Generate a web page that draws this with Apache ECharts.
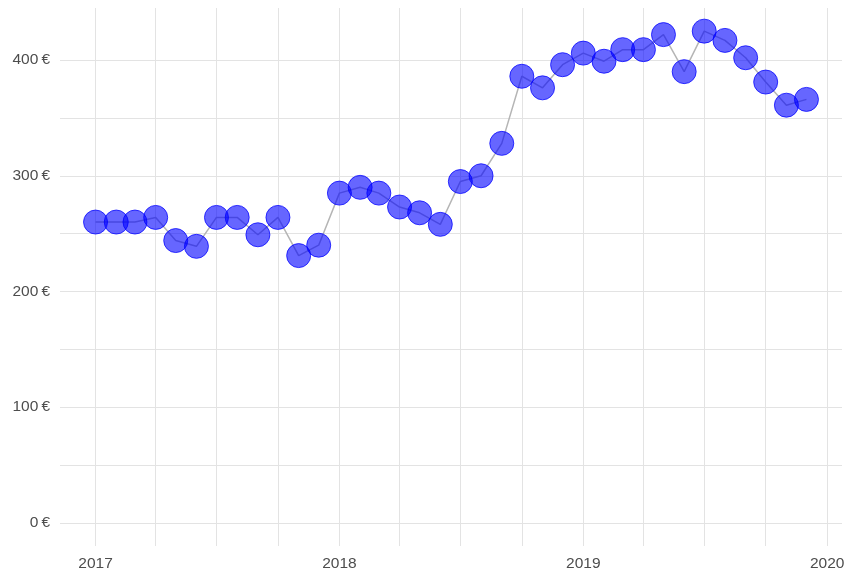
<!DOCTYPE html>
<html>
<head>
<meta charset="utf-8">
<script src="https://cdn.jsdelivr.net/npm/echarts@6/dist/echarts.min.js"></script>
<style>
  html, body { margin: 0; padding: 0; background: #fff; }
  #chart { width: 845px; height: 576px; }
</style>
</head>
<body>
<div id="chart"></div>
<script>
// monthly observations
var months = [
  '2017-01', '2017-02', '2017-03', '2017-04', '2017-05', '2017-06',
  '2017-07', '2017-08', '2017-09', '2017-10', '2017-11', '2017-12',
  '2018-01', '2018-02', '2018-03', '2018-04', '2018-05', '2018-06',
  '2018-07', '2018-08', '2018-09', '2018-10', '2018-11', '2018-12',
  '2019-01', '2019-02', '2019-03', '2019-04', '2019-05', '2019-06',
  '2019-07', '2019-08', '2019-09', '2019-10', '2019-11', '2019-12'
];
var prices = [
  260, 260, 260, 264, 244, 239, 264, 264, 249, 264, 231, 240,
  285, 290, 285, 273, 268, 258, 295, 300, 328, 386, 376, 396,
  406, 399, 409, 409, 422, 390, 425, 417, 402, 381, 361, 366
];
var yearTicks = ['2017-01', '2018-01', '2019-01', '2020-01'];
var quarterTicks = [
  '2017-01', '2017-04', '2017-07', '2017-10',
  '2018-01', '2018-04', '2018-07', '2018-10',
  '2019-01', '2019-04', '2019-07', '2019-10', '2020-01'
];
var yGridTicks = [0, 50, 100, 150, 200, 250, 300, 350, 400];
var yLabelTicks = [0, 100, 200, 300, 400];

// turn 'YYYY-MM' into a decimal year (first day of that month)
function toYear(s) {
  var y = +s.slice(0, 4), m = +s.slice(5, 7);
  var start = Date.UTC(y, 0, 1), end = Date.UTC(y + 1, 0, 1);
  return y + (Date.UTC(y, m - 1, 1) - start) / (end - start);
}

var xs = months.map(toYear);
var span = xs[xs.length - 1] - xs[0];
var xMin = xs[0] - span * 0.05;
var xMax = xs[xs.length - 1] + span * 0.05;

var labelStyle = { color: '#4d4d4d', fontSize: 15.5, fontFamily: 'Liberation Sans, Arial, sans-serif' };
var gridLine = { show: true, lineStyle: { color: '#e3e3e3', width: 1 } };

var chart = echarts.init(document.getElementById('chart'));
chart.setOption({
  animation: false,
  grid: { left: 60, right: 3, top: 8, bottom: 30, outerBoundsMode: 'none', containLabel: false },
  xAxis: {
    type: 'value',
    min: xMin,
    max: xMax,
    axisLine: { show: false },
    axisTick: { show: false, customValues: quarterTicks.map(toYear) },
    splitLine: gridLine,
    axisLabel: Object.assign({
      customValues: yearTicks.map(toYear),
      margin: 10,
      formatter: function (v) { return String(Math.round(v)); }
    }, labelStyle)
  },
  yAxis: {
    type: 'value',
    min: -20,
    max: 445,
    axisLine: { show: false },
    axisTick: { show: false, customValues: yGridTicks },
    splitLine: gridLine,
    axisLabel: Object.assign({
      customValues: yLabelTicks,
      margin: 10,
      formatter: function (v) { return v + '\u2009€'; }
    }, labelStyle)
  },
  series: [{
    type: 'line',
    data: xs.map(function (x, i) { return [x, prices[i]]; }),
    lineStyle: { color: '#b5b5b5', width: 1.5 },
    symbol: 'circle',
    symbolSize: 24,
    showSymbol: true,
    itemStyle: { color: 'rgba(0,0,255,0.6)', borderColor: 'rgba(0,0,255,0.75)', borderWidth: 1 },
    emphasis: { disabled: true }
  }]
});
</script>
</body>
</html>
